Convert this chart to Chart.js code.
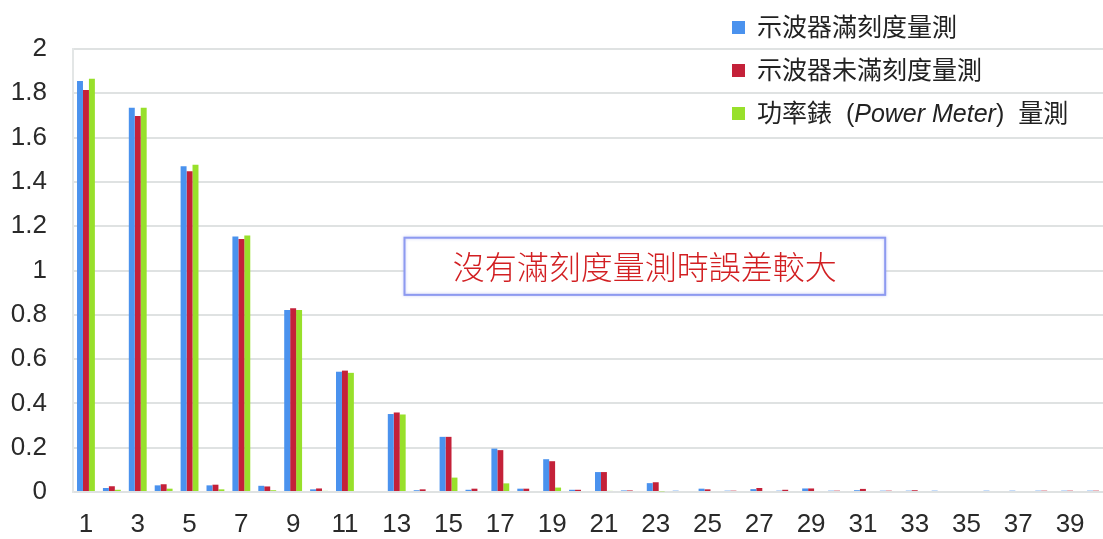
<!DOCTYPE html>
<html>
<head>
<meta charset="utf-8">
<script src="https://cdn.jsdelivr.net/npm/chart.js@4/dist/chart.umd.min.js"></script>
<style>
  html, body { margin: 0; padding: 0; background: #ffffff; overflow: hidden; }
  #wrap { position: relative; width: 1113px; height: 539px; }
  #c { display: block; }
</style>
</head>
<body>
<div id="wrap"><canvas id="c" width="1113" height="539"></canvas></div>
<script>
// Harmonic order
const categories = ['1','2','3','4','5','6','7','8','9','10','11','12','13','14','15','16','17','18','19','20',
                    '21','22','23','24','25','26','27','28','29','30','31','32','33','34','35','36','37','38','39','40'];

// Oscilloscope, full-scale measurement
const scopeFull = [1.855,0.018,1.735,0.030,1.471,0.030,1.154,0.028,0.822,0.012,
                   0.543,0.000,0.352,0.008,0.249,0.010,0.196,0.015,0.148,0.010,
                   0.090,0.007,0.040,0.006,0.015,0.006,0.013,0.006,0.016,0.006,
                   0.008,0.006,0.006,0.006,0.000,0.006,0.006,0.006,0.006,0.006];

// Oscilloscope, not full-scale measurement
const scopePartial = [1.815,0.026,1.697,0.035,1.448,0.033,1.142,0.025,0.830,0.016,
                      0.548,0.000,0.359,0.012,0.249,0.015,0.189,0.015,0.139,0.010,
                      0.090,0.007,0.044,0.000,0.012,0.006,0.018,0.010,0.016,0.006,
                      0.014,0.006,0.008,0.000,0.000,0.000,0.000,0.006,0.006,0.006];

// Power meter measurement
const powerMeter = [1.866,0.010,1.735,0.015,1.477,0.012,1.158,0.008,0.822,0.005,
                    0.538,0.000,0.350,0.000,0.065,0.000,0.039,0.000,0.020,0.000,
                    0.005,0.000,0.003,0.000,0.000,0.000,0.000,0.000,0.000,0.000,
                    0.000,0.000,0.000,0.000,0.000,0.000,0.000,0.000,0.000,0.000];

const yTickLabels = ['0','0.2','0.4','0.6','0.8','1','1.2','1.4','1.6','1.8','2'];

const seriesNames = ['示波器滿刻度量測', '示波器未滿刻度量測', '功率錶 (Power Meter) 量測'];
const seriesColors = ['#4a92ee', '#c42139', '#98e02b'];
const noteText = '沒有滿刻度量測時誤差較大';

const LATIN_CJK = '"Liberation Sans", "Noto Sans CJK TC", sans-serif';

// Legend drawn in the upper right, with the italic English part of the third label
const legendPlugin = {
  id: 'cornerLegend',
  afterDraw(chart) {
    const ctx = chart.ctx;
    const rows = [
      [{t: seriesNames[0]}],
      [{t: seriesNames[1]}],
      [{t: '功率錶  ('}, {t: 'Power Meter', italic: true}, {t: ')  量測'}]
    ];
    const ys = [28, 71, 114];
    ctx.save();
    rows.forEach((segs, i) => {
      ctx.fillStyle = seriesColors[i];
      ctx.fillRect(732, ys[i] - 7, 13, 13);
      let x = 757;
      ctx.textBaseline = 'middle';
      ctx.textAlign = 'left';
      ctx.fillStyle = '#222222';
      segs.forEach(s => {
        ctx.font = (s.italic ? 'italic ' : '') + '25px ' + LATIN_CJK;
        ctx.fillText(s.t, x, ys[i] + 1);
        x += ctx.measureText(s.t).width;
      });
    });
    ctx.restore();
  }
};

// Framed note placed inside the plot, anchored to axis values
const notePlugin = {
  id: 'noteBox',
  afterDatasetsDraw(chart) {
    const {ctx, scales: {x, y}} = chart;
    const left = x.getPixelForValue(12.3);
    const right = x.getPixelForValue(30.86);
    const top = y.getPixelForValue(1.148);
    const bottom = y.getPixelForValue(0.89);
    ctx.save();
    ctx.fillStyle = '#ffffff';
    ctx.fillRect(left, top, right - left, bottom - top);
    ctx.strokeStyle = '#8d9af0';
    ctx.lineWidth = 2;
    ctx.shadowColor = 'rgba(140,150,240,0.5)';
    ctx.shadowBlur = 3;
    ctx.strokeRect(left, top, right - left, bottom - top);
    ctx.shadowBlur = 0;
    ctx.fillStyle = '#d21f22';
    ctx.font = '300 32px "Noto Sans CJK TC", sans-serif';
    ctx.textAlign = 'center';
    ctx.textBaseline = 'middle';
    ctx.fillText(noteText, (left + right) / 2, (top + bottom) / 2 + 1);
    ctx.restore();
  }
};

new Chart(document.getElementById('c'), {
  type: 'bar',
  data: {
    labels: categories,
    datasets: [
      { label: seriesNames[0], data: scopeFull, backgroundColor: seriesColors[0] },
      { label: seriesNames[1], data: scopePartial, backgroundColor: seriesColors[1] },
      { label: seriesNames[2], data: powerMeter, backgroundColor: seriesColors[2] }
    ]
  },
  options: {
    responsive: false,
    animation: false,
    devicePixelRatio: 1,
    layout: { padding: { top: 49, right: 0, left: 0, bottom: 0 } },
    datasets: { bar: { categoryPercentage: 0.69, barPercentage: 1.0, borderWidth: 0 } },
    plugins: {
      legend: { display: false },
      tooltip: { enabled: false }
    },
    scales: {
      x: {
        grid: { display: false, drawTicks: false },
        border: { display: true, color: '#dfe2e2', width: 2 },
        afterFit(scale) { scale.height = 47; },
        ticks: {
          autoSkip: false,
          maxRotation: 0,
          padding: 17,
          color: '#2a2a2a',
          font: { family: '"Liberation Sans", Arial, sans-serif', size: 26 },
          callback(value, index) { return index % 2 === 0 ? categories[index] : ''; }
        }
      },
      y: {
        min: 0,
        max: 2,
        afterFit(scale) { scale.width = 73; },
        grid: { color: '#dfe2e2', lineWidth: 2, drawTicks: false },
        border: { display: true, color: '#e3e6e6', width: 2 },
        ticks: {
          stepSize: 0.2,
          padding: 26,
          color: '#2a2a2a',
          font: { family: '"Liberation Sans", Arial, sans-serif', size: 26 },
          callback(value) { return yTickLabels[Math.round(value / 0.2)]; }
        }
      }
    }
  },
  plugins: [notePlugin, legendPlugin]
});
</script>
</body>
</html>
